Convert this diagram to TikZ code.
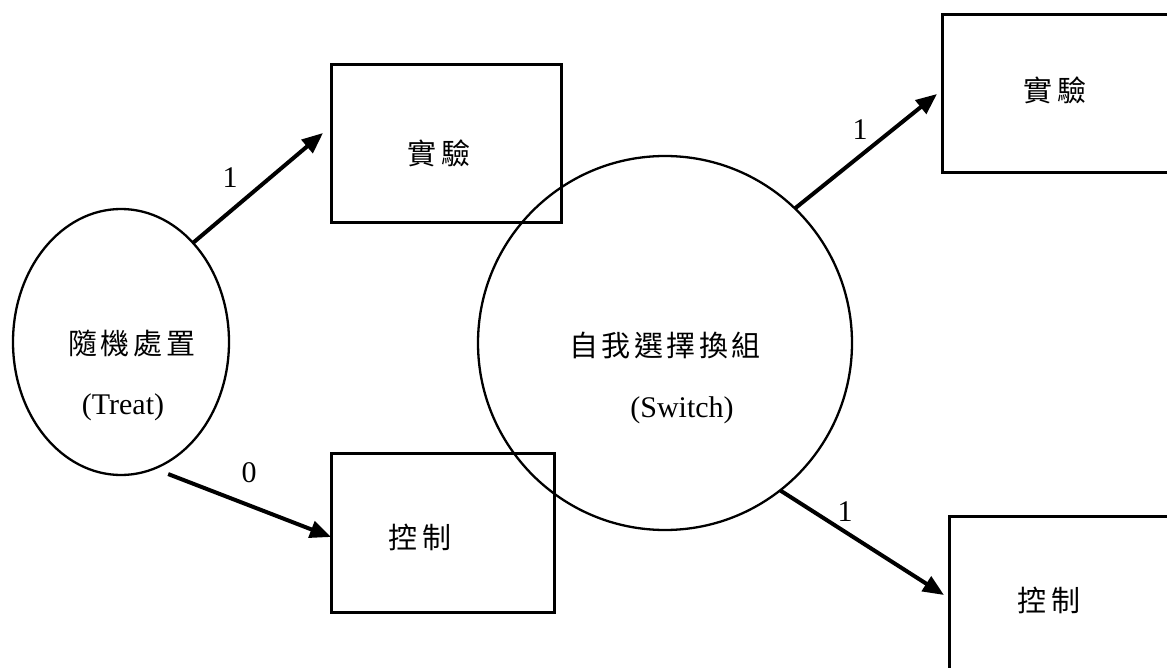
\documentclass[tikz,border=0pt]{standalone}
\usepackage{fontspec}
\setmainfont{Liberation Serif}
\newfontfamily\cjk{Noto Sans CJK TC}
\usetikzlibrary{arrows.meta,shapes.geometric}
\begin{document}
\begin{tikzpicture}[x=1pt,y=-1pt,
  box/.style={draw, rectangle, line width=3pt, inner sep=0pt, outer sep=0pt},
  oval/.style={draw, line width=2.3pt, inner sep=0pt, outer sep=0pt},
  arr/.style={line width=4pt, -{Triangle[length=21pt,width=17pt]}},
  lbl/.style={font=\fontsize{30}{36}\selectfont, inner sep=0pt},
  cj/.style={font=\cjk\fontsize{29}{34}\selectfont, inner sep=0pt}]
\useasboundingbox (0,0) rectangle (1167,668);
\clip (0,0) rectangle (1167,668);
% shapes
\node[oval, ellipse, minimum width=216pt, minimum height=266pt] (treat) at (121,342) {};
\node[oval, circle, minimum size=374pt] (sw) at (665,343) {};
\node[box, minimum width=230pt, minimum height=158pt] (b1) at (446,144) {};
\node[box, minimum width=223pt, minimum height=159pt] (b2) at (442.5,532.5) {};
\node[box, minimum width=228pt, minimum height=158pt] (b3) at (1056,94) {};
\node[box, minimum width=226pt, minimum height=158pt] (b4) at (1062,595) {};
% texts
\node[cj] (t1) at (439,153) {實\kern6pt 驗};
\node[cj] (t2) at (420,537) {控\kern6pt 制};
\node[cj] (t3) at (1055,90) {實\kern6pt 驗};
\node[cj] (t4) at (1049,600) {控\kern6pt 制};
\node[cj] (tt1) at (132,343) {隨\kern4pt 機\kern4pt 處\kern4pt 置};
\node[lbl] (tt2) at (123,407) {(Treat)};
\node[cj] (ts1) at (665,345) {自\kern3.5pt 我\kern3.5pt 選\kern3.5pt 擇\kern3.5pt 換\kern3.5pt 組};
\node[lbl] (ts2) at (682,410) {(Switch)};
% connectors
\draw[arr] (treat.54.6) -- ([shift={(-8pt,11pt)}]b1.west);
\draw[arr] ([shift={(3pt,-10.7pt)}]treat.-70) -- ([yshift=-4.5pt]b2.west);
\draw[arr] (sw.46) -- ([xshift=-5pt]b3.west);
\draw[arr] (sw.-52) -- ([xshift=-5pt]b4.west);
% edge labels
\node[lbl] (l1) at (230,178) {1};
\node[lbl] (l0) at (249,473) {0};
\node[lbl] (l3) at (860,130) {1};
\node[lbl] (l4) at (845,512) {1};
\end{tikzpicture}
\end{document}
